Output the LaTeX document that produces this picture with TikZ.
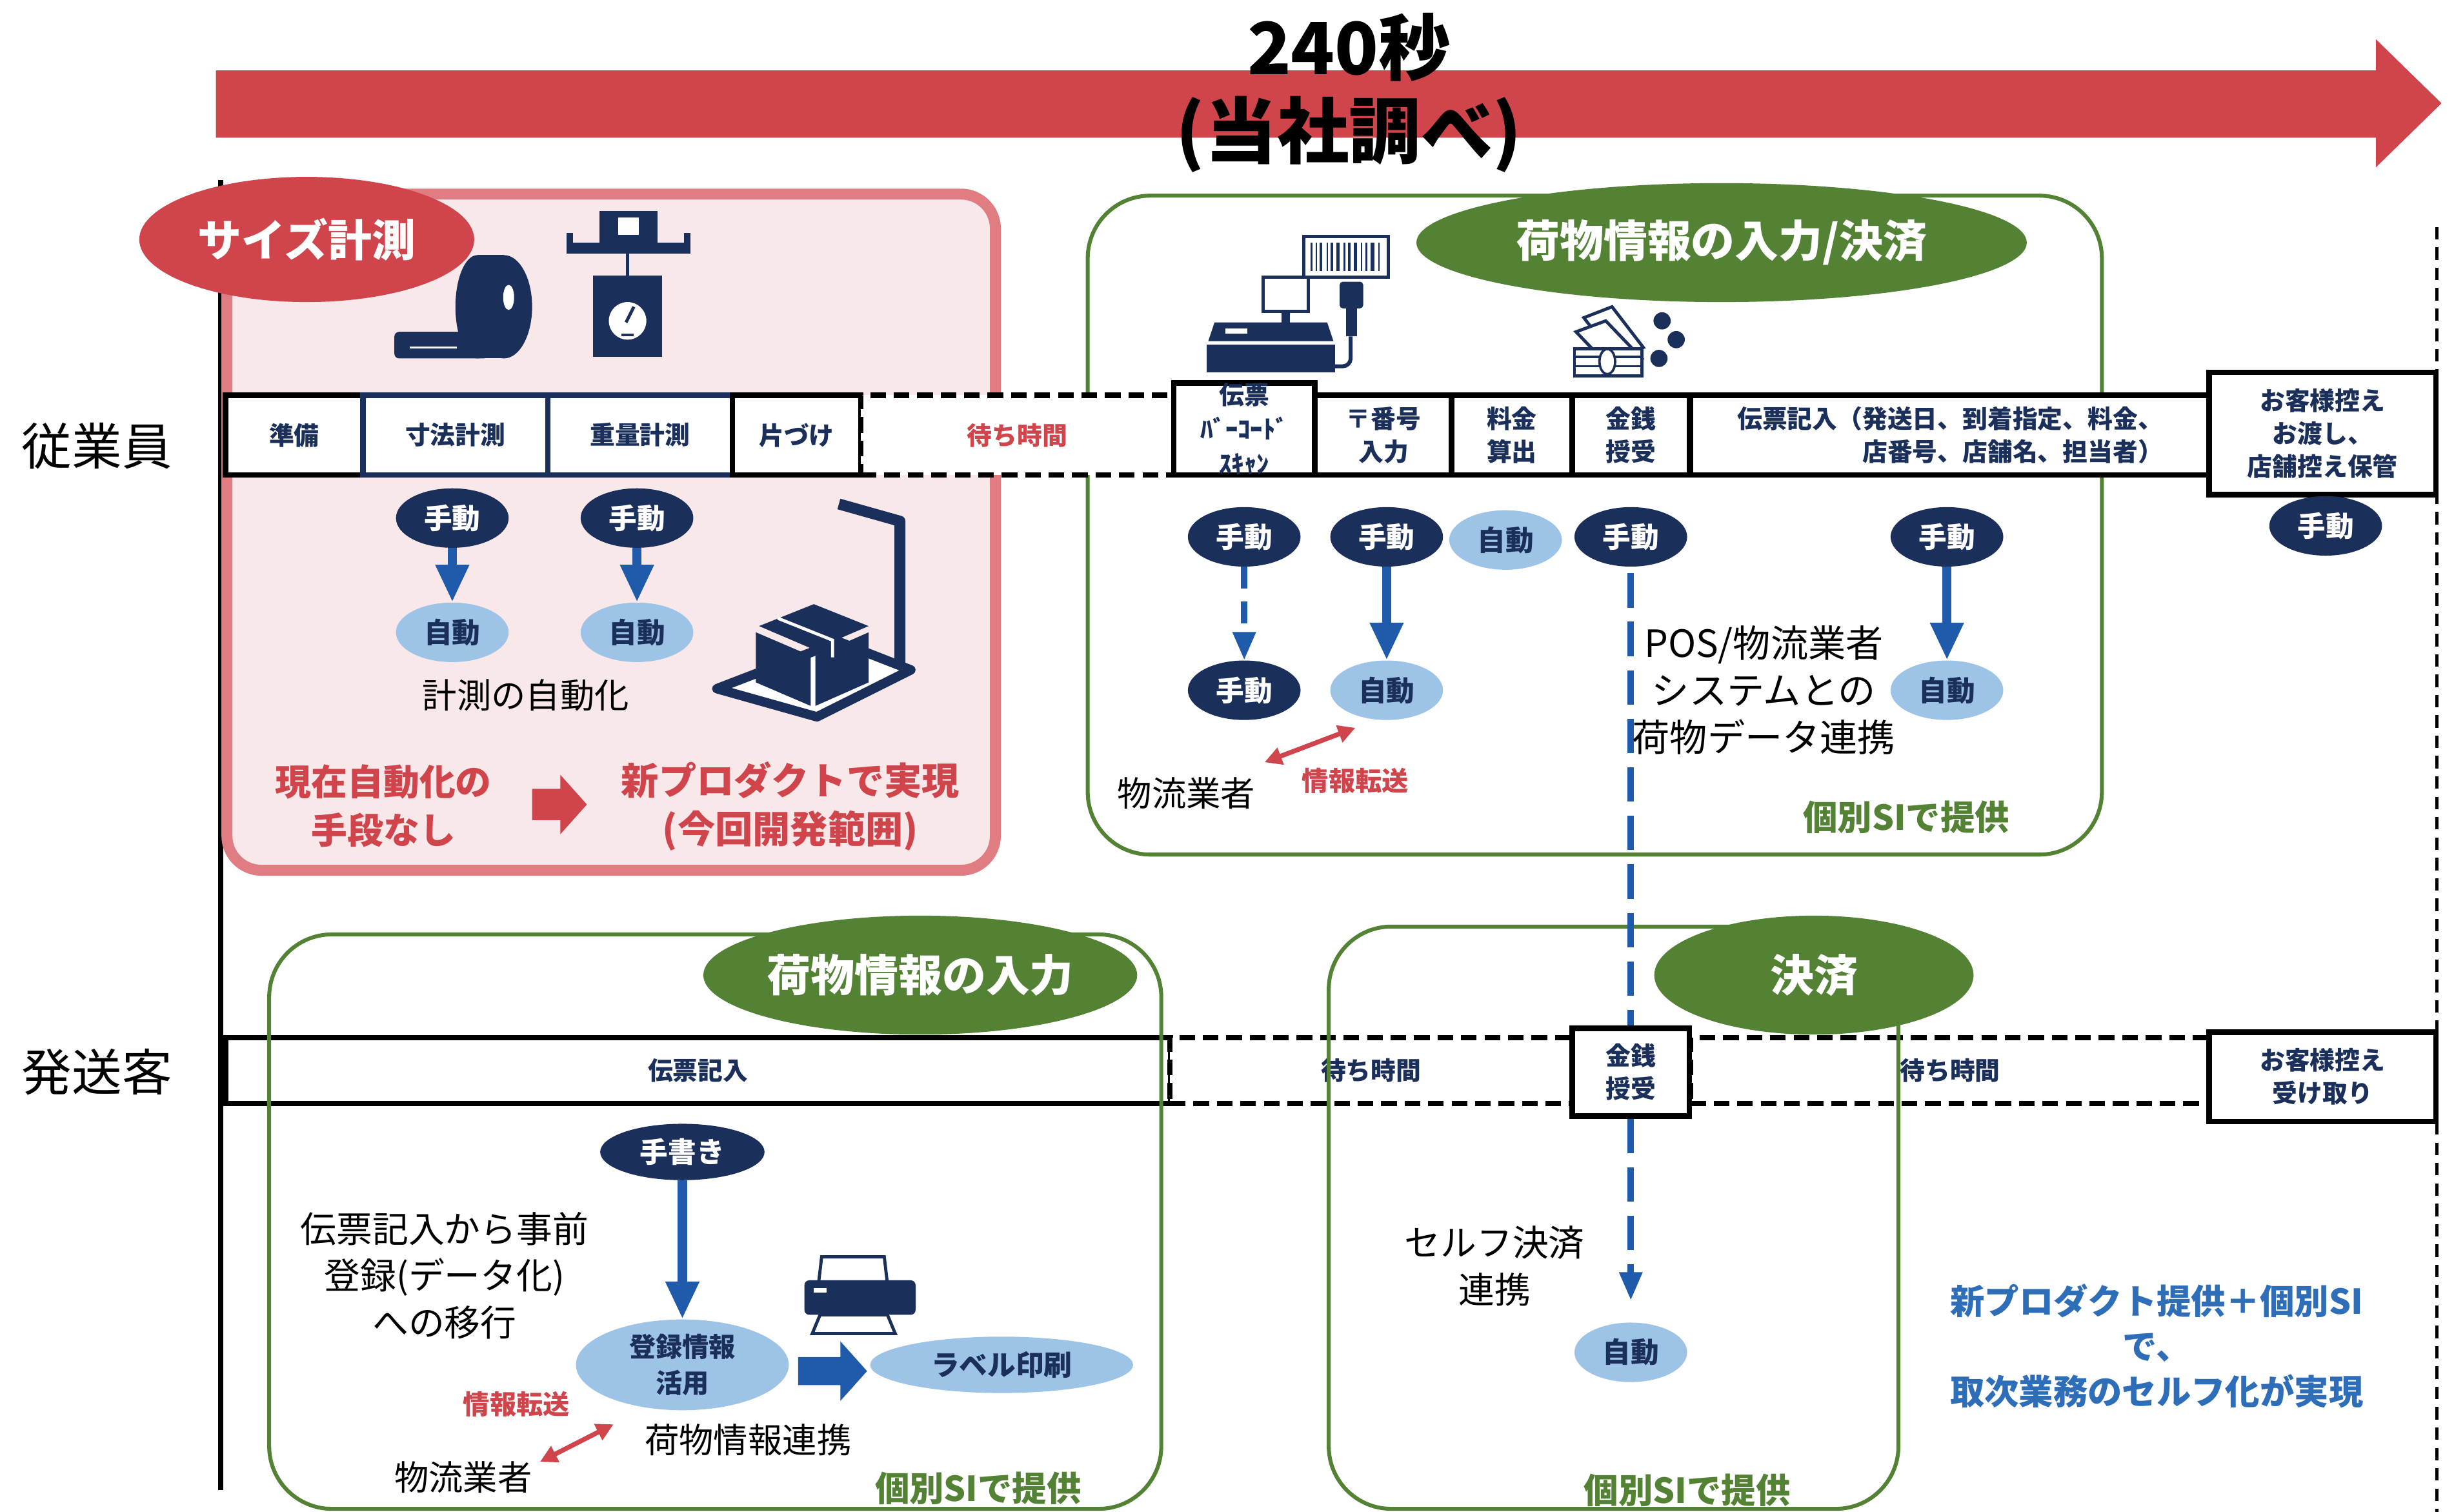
\documentclass[tikz,border=0pt]{standalone}
\usepackage{fontspec}
\setmainfont{Noto Sans CJK JP}
\usetikzlibrary{arrows.meta,shapes.geometric}

\definecolor{ndred}{HTML}{D0454C}
\definecolor{ndpink}{HTML}{F9E8EA}
\definecolor{ndpinkline}{HTML}{E07D83}
\definecolor{ndnavy}{HTML}{1B2F5B}
\definecolor{ndlight}{HTML}{9DC3E6}
\definecolor{ndblue}{HTML}{1F5BAA}
\definecolor{ndgreen}{HTML}{548235}
\definecolor{ndtext}{HTML}{2E6DB8}

\newcommand{\sz}[2]{\fontsize{#1}{#2}\selectfont}

\tikzset{
  lane/.style={draw, line width=3.5pt, fill=white, minimum height=51pt, inner sep=0pt,
    text=ndnavy, font=\sz{16}{21}\bfseries, align=center},
  waitlane/.style={lane, dash pattern=on 10pt off 5pt},
  manual/.style={ellipse, fill=ndnavy, text=white, minimum width=72pt, minimum height=38pt,
    inner sep=0pt, font=\sz{18}{20}\bfseries},
  auto/.style={manual, fill=ndlight, text=ndnavy},
  tag/.style={ellipse, fill=ndgreen, text=white, inner sep=0pt, minimum height=76pt,
    font=\sz{28}{30}\bfseries},
  area/.style={draw=ndgreen, line width=2.5pt, rounded corners=40pt},
  flow/.style={ndblue, line width=6pt, -{Triangle[width=20pt,length=24pt]}},
  dashflow/.style={ndblue, line width=4pt, dash pattern=on 14pt off 8pt,
    -{Triangle[width=14pt,length=18pt]}},
  swap/.style={ndred, line width=3pt,
    {Triangle[width=11pt,length=11pt]}-{Triangle[width=11pt,length=11pt]}},
  note/.style={font=\sz{23}{30}, align=center},
  si/.style={text=ndgreen, font=\sz{22}{24}\bfseries},
}

\begin{document}
\begin{tikzpicture}[x=1pt, y=-1pt]
\useasboundingbox (0,0) rectangle (1568,966);

% time line
\fill[ndred] (138,45) -- (1518,45) -- (1518,25) -- (1560,66) -- (1518,107)
  -- (1518,88) -- (138,88) -- cycle;
\node[font=\sz{46}{50}\bfseries] (total) at (862,30) {240秒};
\node[font=\sz{46}{50}\bfseries] (source) at (862,86) {(当社調べ)};

\draw[line width=3pt] (141,115) -- (141,952);
\draw[line width=2pt, dash pattern=on 8pt off 5pt] (1557,145) -- (1557,966);

\node[font=\sz{32}{34}] (staff) at (62,285) {従業員};
\node[font=\sz{32}{34}] (sender) at (62,685) {発送客};

% areas
\draw[ndpinkline, fill=ndpink, line width=7pt, rounded corners=22pt] (145,124) rectangle (636,556);
\draw[area, fill=white] (695,125) rectangle (1343,546);

% staff lane
\node[lane, minimum width=88pt] (junbi) at (188,278) {準備};
\node[lane, draw=ndnavy, minimum width=118pt] (sunpo) at (291,278) {寸法計測};
\node[lane, draw=ndnavy, minimum width=118pt] (juryo) at (409,278) {重量計測};
\node[lane, minimum width=82pt] (katazuke) at (509,278) {片づけ};
\node[waitlane, minimum width=200pt, text=ndred] (wait1) at (650,278) {待ち時間};
\node[lane, minimum width=90pt, font=\sz{16}{22}\bfseries] (scan) at (795,274) {伝票\\ﾊﾞｰｺｰﾄﾞ\\ｽｷｬﾝ};
\node[lane, minimum width=88pt] (yubin) at (884,278) {〒番号\\入力};
\node[lane, minimum width=77pt] (ryokin) at (966,278) {料金\\算出};
\node[lane, minimum width=75pt] (kinsen1) at (1042,278) {金銭\\授受};
\node[lane, minimum width=332pt, align=right] (denpyo1) at (1246,278)
  {伝票記入（発送日、到着指定、料金、\\店番号、店舗名、担当者）};
\node[lane, minimum width=145pt, minimum height=78pt] (hikae1) at (1484,277)
  {お客様控え\\お渡し、\\店舗控え保管};

% sender lane
\node[lane, minimum width=604pt, minimum height=42pt] (denpyo2) at (446,684) {伝票記入};
\node[waitlane, minimum width=257pt, minimum height=42pt] (wait2) at (876,684) {待ち時間};
\node[waitlane, minimum width=332pt, minimum height=42pt] (wait3) at (1246,684) {待ち時間};
\node[lane, minimum width=75pt, minimum height=56pt] (kinsen2) at (1042,685) {金銭\\授受};
\node[lane, minimum width=145pt, minimum height=57pt] (hikae2) at (1484,688) {お客様控え\\受け取り};

\draw[area] (172,597) rectangle (742,964);
\draw[area] (849,592) rectangle (1213,964);

% headings
\node[ellipse, fill=ndred, text=white, inner sep=0pt, minimum width=214pt, minimum height=80pt,
  font=\sz{28}{30}\bfseries] (size) at (196,153) {サイズ計測};
\node[tag, minimum width=390pt] (input1) at (1100,155) {荷物情報の入力/決済};
\node[tag, minimum width=276pt] (input2) at (588,623) {荷物情報の入力};
\node[tag, minimum width=204pt] (pay) at (1159,623) {決済};

% tape measure
\fill[ndnavy] (305,196) ellipse (14 and 33);
\fill[ndnavy] (305,163) rectangle (322,229);
\fill[ndnavy] (322,196) ellipse (18 and 33);
\fill[white] (325,190) ellipse (3.5 and 8);
\fill[ndnavy, rounded corners=3pt] (252,212) rectangle (312,229);
\draw[white, line width=1.5pt] (262,222) -- (292,222);

% hanging scale
\fill[ndnavy] (383,135) rectangle (420,160);
\fill[white] (395,139) rectangle (408,150);
\fill[ndnavy] (362,155) rectangle (441,162);
\fill[ndnavy] (362,149) rectangle (366,162);
\fill[ndnavy] (437,149) rectangle (441,162);
\draw[ndnavy, line width=2pt] (401,162) -- (401,176);
\fill[ndnavy] (379,176) rectangle (423,228);
\fill[white] (401,205) circle (12);
\draw[ndnavy, line width=2pt] (400,206) -- (405,196);
\draw[ndnavy, line width=2pt] (397,214) -- (405,214);

% platform scale
\draw[ndnavy, line width=7pt, line join=round] (536,322) -- (575,333) -- (575,430);
\draw[ndnavy, line width=6pt, line join=round, fill=white] (458,440) -- (536,410) -- (582,428) -- (522,458) -- cycle;
\fill[ndnavy] (483,404) -- (518,419) -- (518,451) -- (483,436) -- cycle;
\fill[ndnavy] (521,419) -- (555,404) -- (555,436) -- (521,451) -- cycle;
\fill[ndnavy] (485,400) -- (520,386) -- (555,400) -- (520,415) -- cycle;
\draw[white, line width=2pt] (497,395) -- (532,409) -- (532,420);

% register with scanner
\draw[ndnavy, line width=2pt, fill=white] (833,151) rectangle (887,177);
\foreach \bx/\bw in {838/1.5,841/1,844/2,848/1,851/1.5,855/2.2,859/1,862/1.5,866/2,870/1,873/1.5,877/2.2,881/1}
  \draw[ndnavy, line width=\bw pt] (\bx,155) -- (\bx,173);
\draw[ndnavy, line width=2pt, fill=white] (807,177) rectangle (836,199);
\fill[ndnavy] (819,199) rectangle (824,206);
\fill[ndnavy] (776,206) -- (848,206) -- (852,218) -- (772,218) -- cycle;
\fill[white] (783,210) rectangle (797,213);
\fill[ndnavy] (771,220) rectangle (853,238);
\fill[ndnavy, rounded corners=2pt] (856,180) rectangle (871,197);
\fill[ndnavy] (860,197) rectangle (867,215);
\draw[ndnavy, line width=2.5pt, rounded corners=5pt] (863,215) |- (853,234);

% money
\draw[ndnavy, line width=2pt, fill=white] (1012,203) -- (1030,196) -- (1050,222) -- (1032,229) -- cycle;
\draw[ndnavy, line width=2pt, fill=white] (1007,212) -- (1026,205) -- (1049,229) -- (1030,236) -- cycle;
\draw[ndnavy, line width=2pt, fill=white] (1006,223) rectangle (1049,240);
\draw[ndnavy, line width=1.5pt] (1006,228) -- (1049,228) (1006,234) -- (1049,234);
\draw[ndnavy, line width=1.5pt, fill=white] (1027,231) ellipse (5 and 8);
\fill[ndnavy] (1062,205) circle (5.5);
\fill[ndnavy] (1071,217) circle (5.5);
\fill[ndnavy] (1060,229) circle (5.5);

% printer
\draw[ndnavy, line width=2pt, fill=white] (525,803) -- (565,803) -- (567,820) -- (523,820) -- cycle;
\fill[ndnavy, rounded corners=3pt] (514,818) rectangle (585,840);
\fill[white] (520,823) rectangle (528,826);
\draw[ndnavy, line width=2pt, fill=white] (524,840) -- (567,840) -- (572,852) -- (519,852) -- cycle;

% size measuring
\node[manual] (m1) at (289,331) {手動};
\node[auto] (a1) at (289,404) {自動};
\node[manual] (m2) at (407,331) {手動};
\node[auto] (a2) at (407,404) {自動};
\draw[flow] (m1) -- (a1);
\draw[flow] (m2) -- (a2);
\node[font=\sz{22}{24}] (autonote) at (336,444) {計測の自動化};
\node[text=ndred, font=\sz{23}{31}\bfseries, align=center] (nomeans) at (245,515) {現在自動化の\\手段なし};
\fill[ndred] (340,504) -- (358,504) -- (358,495) -- (375,514) -- (358,533) -- (358,524) -- (340,524) -- cycle;
\node[text=ndred, font=\sz{24}{31}\bfseries, align=center] (newprod) at (505,515) {新プロダクトで実現\\(今回開発範囲)};

% input and payment
\node[manual] (m3) at (795,343) {手動};
\node[manual] (m4) at (795,441) {手動};
\node[manual] (m5) at (886,343) {手動};
\node[auto] (a3) at (886,441) {自動};
\node[auto] (a4) at (962,345) {自動};
\node[manual] (m6) at (1042,343) {手動};
\node[manual] (m7) at (1244,343) {手動};
\node[auto] (a5) at (1244,441) {自動};
\node[manual] (m8) at (1486,336) {手動};
\node[auto] (a6) at (1042,864) {自動};
\draw[dashflow] (m3) -- (m4);
\draw[flow] (m5) -- (a3);
\draw[flow] (m7) -- (a5);
\draw[ndblue, line width=4pt, dash pattern=on 22pt off 9pt, shorten <=4pt] (m6) -- (kinsen2);
\draw[dashflow, dash pattern=on 22pt off 9pt, shorten >=14pt] (kinsen2) -- (a6);

\node[note, font=\sz{24}{30}] (posnote) at (1127,441) {POS/物流業者\\システムとの\\荷物データ連携};
\node[font=\sz{22}{24}] (carrier1) at (758,507) {物流業者};
\node[text=ndred, font=\sz{17}{19}\bfseries] (xfer1) at (866,499) {情報転送};
\coordinate (x1a) at (808,487);
\coordinate (x1b) at (866,465);
\draw[swap] (x1a) -- (x1b);
\node[si] (si1) at (1218,522) {個別SIで提供};

% sender side
\node[manual, minimum width=105pt, minimum height=36pt] (hand) at (436,736) {手書き};
\node[auto, minimum width=136pt, minimum height=58pt, font=\sz{17}{23}\bfseries, align=center] (reg) at (436,872) {登録情報\\活用};
\node[auto, minimum width=168pt, minimum height=36pt] (label) at (640,872) {ラベル印刷};
\draw[flow] (hand) -- (reg);
\fill[ndblue] (510,867) -- (537,867) -- (537,857) -- (554,876) -- (537,895) -- (537,885) -- (510,885) -- cycle;
\node[note] (shift) at (284,815) {伝票記入から事前\\登録(データ化)\\への移行};
\node[text=ndred, font=\sz{17}{19}\bfseries] (xfer2) at (330,897) {情報転送};
\coordinate (x2a) at (345,934);
\coordinate (x2b) at (392,910);
\draw[swap] (x2a) -- (x2b);
\node[font=\sz{22}{24}] (link) at (478,920) {荷物情報連携};
\node[font=\sz{22}{24}] (carrier2) at (296,944) {物流業者};
\node[si] (si2) at (625,951) {個別SIで提供};

\node[note] (selfpay) at (955,809) {セルフ決済\\連携};
\node[si] (si3) at (1078,952) {個別SIで提供};
\node[text=ndtext, font=\sz{22}{29}\bfseries, align=center] (result) at (1378,860)
  {新プロダクト提供＋個別SI\\で、\\取次業務のセルフ化が実現};
\end{tikzpicture}
\end{document}
